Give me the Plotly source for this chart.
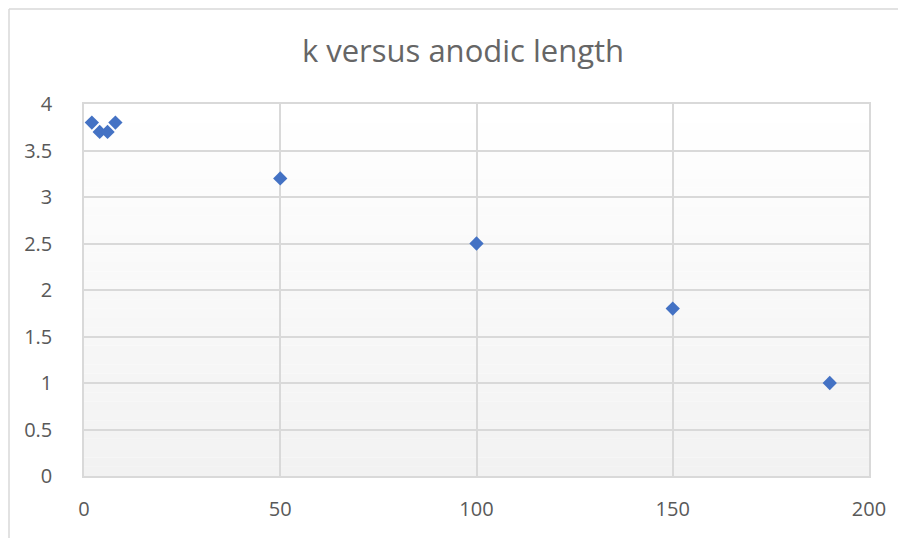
import plotly.graph_objects as go

# Data
anodic_length = [2, 4, 6, 8, 50, 100, 150, 190]
k_values = [3.8, 3.7, 3.7, 3.8, 3.2, 2.5, 1.8, 1.0]
x_ticks = [0, 50, 100, 150, 200]
y_ticks = [0, 0.5, 1, 1.5, 2, 2.5, 3, 3.5, 4]

OFF = 8  # default page body margin
W, H = 906 - OFF, 538 - OFF
L, R, T, B = 84 - OFF, 869 - OFF, 104 - OFF, 476 - OFF

fig = go.Figure()
fig.add_trace(go.Scatter(
    x=anodic_length, y=k_values, mode="markers",
    marker=dict(symbol="diamond", size=11, color="#4472C4",
                line=dict(width=0)),
    showlegend=False, hoverinfo="x+y"))

# gradient background for plot area (white at top to light gray at bottom)
shapes = []
n = 40
for i in range(n):
    t = i / (n - 1)
    c = int(round(255 - (255 - 242) * (1 - t)))
    shapes.append(dict(type="rect", xref="x domain", yref="y domain",
                       x0=0, x1=1, y0=i / n, y1=(i + 1) / n,
                       fillcolor=f"rgb({c},{c},{c})", line=dict(width=0),
                       layer="below"))
# outer chart border (left and top visible)
pw, ph = R - L, B - T
bx = (1 - L) / pw
by = (B - 1) / ph
shapes.append(dict(type="line", xref="paper", yref="paper", x0=bx, x1=bx,
                   y0=-1, y1=by, line=dict(color="#d9d9d9", width=1.5)))
shapes.append(dict(type="line", xref="paper", yref="paper", x0=bx, x1=2,
                   y0=by, y1=by, line=dict(color="#d9d9d9", width=1.5)))

fig.update_layout(
    width=W, height=H,
    margin=dict(l=L, r=W - R, t=T, b=H - B, pad=0),
    paper_bgcolor="white", plot_bgcolor="rgba(0,0,0,0)",
    title=dict(text="k versus anodic length", x=(463 - OFF) / W, xanchor="center",
               y=1 - (51 - OFF) / H, yanchor="middle",
               font=dict(family="Open Sans, sans-serif", size=31, color="#666666")),
    font=dict(family="Open Sans, sans-serif", size=20, color="#595959"),
    shapes=shapes,
    xaxis=dict(range=[0, 200], tickvals=x_ticks, showgrid=True,
               gridcolor="#d9d9d9", gridwidth=1.5, zeroline=False,
               showline=True, linecolor="#d9d9d9", linewidth=1.5, mirror=True,
               ticks="", ticklabelstandoff=14, layer="below traces"),
    yaxis=dict(range=[0, 4], tickvals=y_ticks, showgrid=True,
               gridcolor="#d9d9d9", gridwidth=1.5, zeroline=False,
               showline=True, linecolor="#d9d9d9", linewidth=1.5, mirror=True,
               ticks="", ticklabelstandoff=26, layer="below traces"),
)

fig.write_html("out.html")
